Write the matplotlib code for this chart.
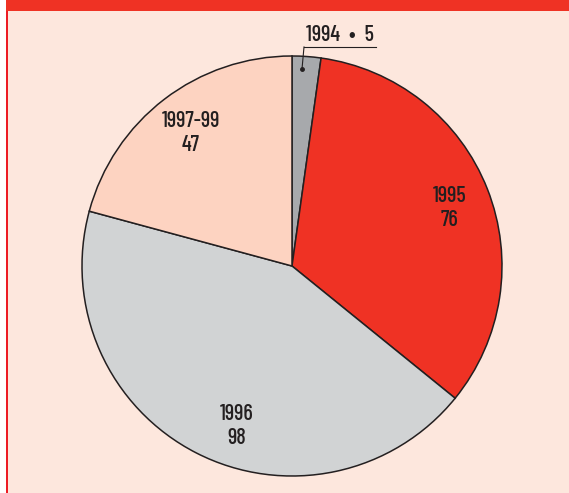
import matplotlib.pyplot as plt
from matplotlib.patches import Rectangle

# Data
years = ["1994", "1995", "1996", "1997-99"]
counts = [5, 76, 98, 47]
colors = ["#a7a9ac", "#ef3224", "#d1d3d4", "#fdd3c1"]

W, H = 569, 493
fig = plt.figure(figsize=(W / 100, H / 100), dpi=100)
fig.patch.set_facecolor("white")
ax = fig.add_axes([0, 0, 1, 1])

# Background panel, red border and header strip
ax.add_patch(Rectangle((6, 0), W - 6, H, facecolor="#fde7dd", edgecolor="none", zorder=0))
ax.add_patch(Rectangle((6, 0), 2.2, H, facecolor="#ed1c24", edgecolor="none", zorder=1))
ax.add_patch(Rectangle((6, H - 11), W - 6, 11, facecolor="#ef3224", edgecolor="none", zorder=1))

cx, cy, r = 292, H - 266, 210
ax.pie(counts, colors=colors, startangle=90, counterclock=False,
       center=(cx, cy), radius=r, frame=True,
       wedgeprops=dict(edgecolor="#231f20", linewidth=1.1))
ax.set_xlim(0, W)
ax.set_ylim(0, H)
ax.set_aspect("equal")
ax.axis("off")

txt = dict(ha="center", va="center", fontsize=16, color="#231f20",
           family=["Barlow Condensed", "DejaVu Sans"], fontweight=500, linespacing=1.25)
ax.text(450, H - 208, f"{years[1]}\n{counts[1]}", **txt)
ax.text(237, H - 426, f"{years[2]}\n{counts[2]}", **txt)
ax.text(191, H - 133, f"{years[3]}\n{counts[3]}", **txt)
ax.text(340, H - 35, f"{years[0]}  \u2022  {counts[0]}", **txt)

# leader for the small slice
ax.plot([304, 376], [H - 47, H - 47], color="#231f20", lw=0.8)
ax.plot([304, 302], [H - 47, H - 69], color="#231f20", lw=0.8)
ax.plot([302], [H - 69], "o", color="#231f20", ms=2.5)

plt.savefig("out.png", dpi=100)
